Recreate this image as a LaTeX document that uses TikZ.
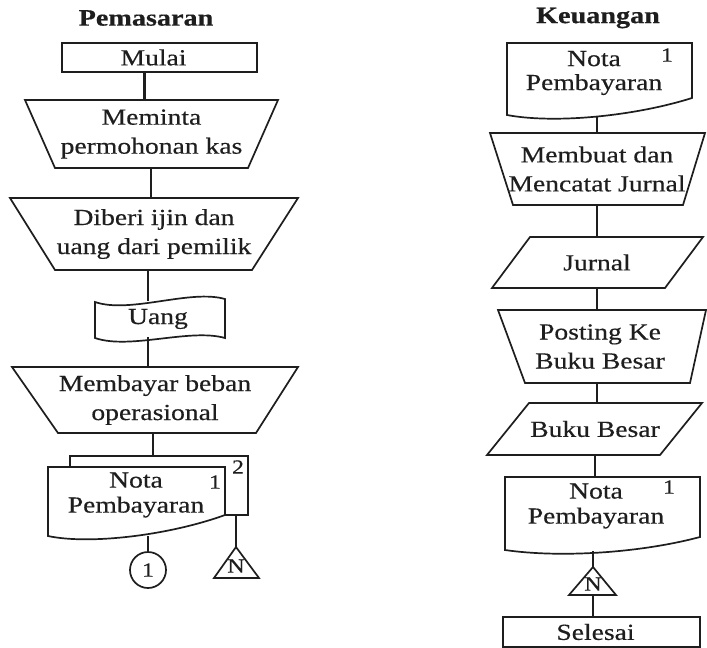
\documentclass[tikz,border=0pt]{standalone}
\usepackage{fontspec}
\setmainfont{Liberation Serif}[FakeStretch=1.2,FakeBold=0.4]
\usetikzlibrary{calc}
\definecolor{ink}{HTML}{1E1E1E}
\tikzset{
  txt/.style={inner sep=0pt, align=center, text=ink, font=\fontsize{23}{29}\selectfont},
  doctxt/.style={inner sep=0pt, align=center, text=ink, font=\fontsize{23}{25}\selectfont},
  outline/.style={draw=ink, line width=1.7pt, fill=white, line join=miter},
  conn/.style={draw=ink, line width=2.3pt},
  ttl/.style={inner sep=0pt, text=ink, font=\fontsize{23.5}{26}\selectfont\bfseries},
  num/.style={inner sep=0pt, text=ink, font=\fontsize{20}{20}\selectfont},
  nsym/.style={inner sep=0pt, text=ink, font=\fontsize{20}{20}\selectfont},
}
\begin{document}
\begin{tikzpicture}[x=1pt,y=-1pt]
\path[use as bounding box, fill=white] (0,0) rectangle (707,648);

% ---------------- Pemasaran ----------------
\node[ttl] (tL) at (146,18) {Pemasaran};

\draw[outline] (62,43) rectangle (257,72);
\node[txt, minimum width=195, minimum height=29] (mulai) at (159.5,57.5) {\hspace*{-12pt}Mulai};

\draw[outline] (25,100) -- (278,100) -- (248,168) -- (55,168) -- cycle;
\node[txt, minimum width=253, minimum height=68] (meminta) at (151.5,134) {Meminta\\permohonan kas};

\draw[outline] (10,198) -- (298,198) -- (252,270) -- (55,270) -- cycle;
\node[txt, minimum width=288, minimum height=72] (diberi) at (154,234) {Diberi ijin dan\\uang dari pemilik};

\draw[outline] (95,302) .. controls (130,314) and (190,289) .. (225,299) -- (225,338)
  .. controls (190,328) and (130,350) .. (95,338) -- cycle;
\node[txt, minimum width=130, minimum height=36] (uang) at (158,319) {Uang};

\draw[outline] (12,367) -- (298,367) -- (256,433) -- (58,433) -- cycle;
\node[txt, minimum width=286, minimum height=66] (membayar) at (155,400) {Membayar beban\\operasional};

% document with copy
\draw[outline, fill=none] (70,467) -- (70,456) -- (248,456) -- (248,515) -- (225,515);
\coordinate (copyTop) at (153,456);
\coordinate (copyBot) at (236,515);
\draw[outline] (48,467) -- (225,467) -- (225,515) .. controls (170,535) and (90,545) .. (48,536) -- cycle;
\node[doctxt] (notaL) at (136,495) {Nota\\Pembayaran};
\coordinate (notaLbot) at (148,536);
\node[num] (n1L) at (215,482) {1};
\node[num] (n2L) at (238,467) {2};

\node[draw=ink, line width=1.7pt, circle, minimum size=36, inner sep=0pt, num] (c1) at (148,570) {1};

\draw[outline] (236,547) -- (259,578) -- (214,578) -- cycle;
\coordinate (triLtop) at (236,547);
\node[nsym] (NL) at (236,566) {N};

\draw[conn] (mulai.south -| meminta.north) ++(-7,0) coordinate (a1) -- (a1 |- meminta.north);
\draw[conn] (meminta.south) ++(-0.5,0) coordinate (a2) -- (a2 |- diberi.north);
\draw[conn] (uang.north -| 148,0) coordinate (a3) -- (a3 |- diberi.south);
\draw[conn] (uang.south -| 148,0) coordinate (a4) -- (a4 |- membayar.north);
\draw[conn] (membayar.south -| copyTop) -- (copyTop);
\draw[conn] (notaLbot) -- (c1.north);
\draw[conn] (copyBot) -- (triLtop);

% ---------------- Keuangan ----------------
\node[ttl] (tR) at (598,18) {Keuangan};

\draw[outline] (507,43) -- (692,43) -- (692,98) .. controls (635,116) and (555,124) .. (507,115) -- cycle;
\node[doctxt, font=\fontsize{23}{24}\selectfont] (notaR1) at (594,73) {Nota\\Pembayaran};
\coordinate (notaR1bot) at (597,117);
\node[num] (n1R1) at (667,55) {1};

\draw[outline] (490,133) -- (705,133) -- (683,205) -- (513,205) -- cycle;
\node[txt, minimum width=215, minimum height=72] (membuat) at (597,169) {Membuat dan\\Mencatat Jurnal};

\draw[outline] (530,237) -- (703,237) -- (665,288) -- (492,288) -- cycle;
\node[txt, minimum width=173, minimum height=51] (jurnal) at (597,262.5) {Jurnal};

\draw[outline] (498,310) -- (706,310) -- (690,383) -- (525,383) -- cycle;
\node[txt, minimum width=200, minimum height=73] (posting) at (600,346.5) {Posting Ke\\Buku Besar};

\draw[outline] (529,403) -- (702,403) -- (660,455) -- (487,455) -- cycle;
\node[txt, minimum width=173, minimum height=52] (buku) at (595,429) {Buku Besar};

\draw[outline] (505,477) -- (700,477) -- (700,537) .. controls (640,553) and (560,558) .. (505,550) -- cycle;
\node[doctxt, minimum width=195] (notaR2) at (596,506) {Nota\\Pembayaran};
\coordinate (notaR2top) at (595,477);
\coordinate (notaR2bot) at (593,551);
\node[num] (n1R2) at (669,487) {1};

\draw[outline] (593,567) -- (616,595) -- (569,595) -- cycle;
\coordinate (triRtop) at (593,567);
\coordinate (triRbot) at (593,595);
\node[nsym] (NR) at (593,584) {N};

\draw[outline] (503,617) rectangle (700,647);
\node[txt, minimum width=197, minimum height=30] (selesai) at (601.5,632) {\hspace*{-12pt}Selesai};

\draw[conn] (notaR1bot) -- (notaR1bot |- membuat.north);
\draw[conn] (membuat.south) -- (jurnal.north);
\draw[conn] (jurnal.south) -- (jurnal.south |- posting.north);
\draw[conn] (posting.north |- posting.south) ++(-3,0) coordinate (b1) -- (b1 |- buku.north);
\draw[conn] (buku.south) -- (notaR2top);
\draw[conn] (notaR2bot) -- (triRtop);
\draw[conn] (triRbot) -- (triRbot |- selesai.north);
\end{tikzpicture}
\end{document}
